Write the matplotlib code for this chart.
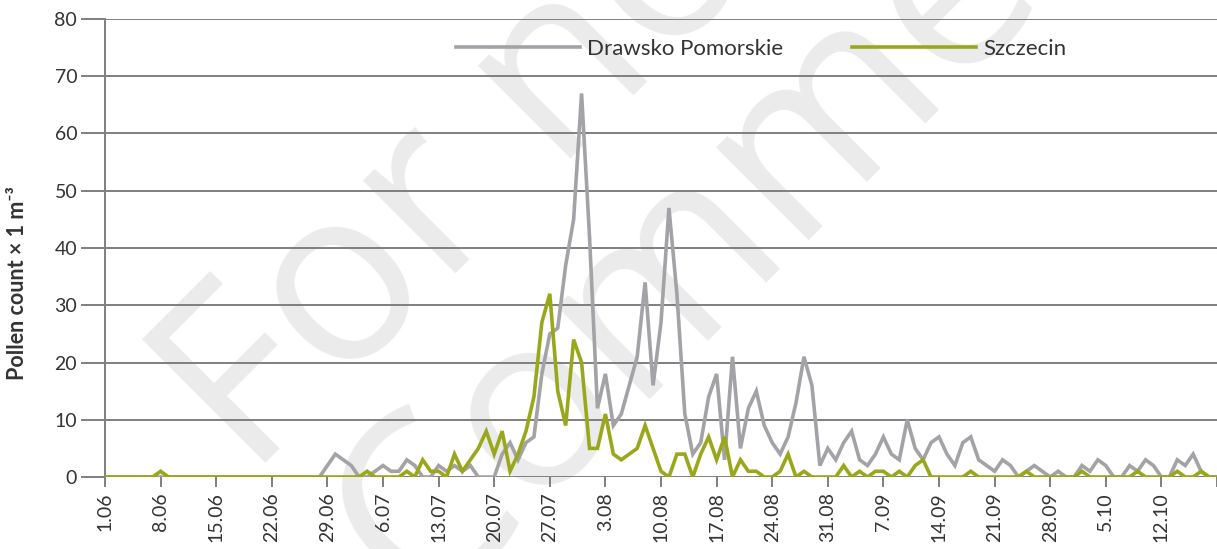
import matplotlib.pyplot as plt
import numpy as np

# Data: daily pollen counts, 1.06 - 19.10
drawsko = ([0] * 27 +
           [0, 2, 4, 3, 2, 0, 0, 1, 2, 1, 1, 3, 2, 0, 0, 2, 1, 2, 1, 2, 0, 0, 0,
            4, 6, 3, 6, 7, 18, 25, 26, 37, 45, 67, 42, 12, 18, 9, 11, 16, 21, 34,
            16, 27, 47, 32, 11, 4, 6, 14, 18, 3, 21, 5, 12, 15, 9, 6, 4, 7, 13,
            21, 16, 2, 5, 3, 6, 8, 3, 2, 4, 7, 4, 3, 10, 5, 3, 6, 7, 4, 2, 6, 7,
            3, 2, 1, 3, 2, 0, 1, 2, 1, 0, 1, 0, 0, 2, 1, 3, 2, 0, 0, 2, 1, 3, 2,
            0, 0, 3, 2, 4, 1, 0, 0])
szczecin = ([0] * 7 + [1] + [0] * 25 +
            [1, 0, 0, 0, 0, 1, 0, 3, 1, 1, 0, 4, 1, 3, 5, 8, 4, 8, 1, 4, 8, 14,
             27, 32, 15, 9, 24, 20, 5, 5, 11, 4, 3, 4, 5, 9, 5, 1, 0, 4, 4, 0, 4,
             7, 3, 7, 0, 3, 1, 1, 0, 0, 1, 4, 0, 1, 0, 0, 0, 0, 2, 0, 1, 0, 1, 1,
             0, 1, 0, 2, 3] +
            [0] * 5 + [1] + [0] * 6 + [1] + [0] * 6 + [1] + [0] * 6 + [1] +
            [0] * 4 + [1] + [0] * 2 + [1, 0, 0])
tick_labels = ['1.06', '8.06', '15.06', '22.06', '29.06', '6.07', '13.07',
               '20.07', '27.07', '3.08', '10.08', '17.08', '24.08', '31.08',
               '7.09', '14.09', '21.09', '28.09', '5.10', '12.10', '']

plt.rcParams['font.family'] = ['Lato', 'DejaVu Sans']
grid_col = '#7f7f7f'
text_col = '#333333'

fig = plt.figure(figsize=(12.17, 5.49), dpi=100)
ax = fig.add_axes([105 / 1217, 1 - 477 / 549, 1112 / 1217, 458 / 549])
ax.patch.set_visible(False)

# watermark
wm = dict(color='#ebebeb', fontsize=175, rotation=45, rotation_mode='anchor',
          ha='left', va='baseline', zorder=-5, family=['Open Sans', 'Lato'])
fig.text(250 / 1217, 1 - 480 / 549, 'For non-', **wm)
fig.text(420 / 1217, 1 - 615 / 549, 'Commercial', **wm)

days = np.arange(len(drawsko))
ax.plot(days, drawsko, color='#a3a3a7', lw=2.6, label='Drawsko Pomorskie',
        solid_joinstyle='miter', zorder=3)
ax.plot(days[:len(szczecin)], szczecin, color='#9ba71a', lw=2.6,
        label='Szczecin', solid_joinstyle='miter', zorder=4)

ax.set_xlim(0, 140)
ax.set_ylim(0, 80)
ax.set_yticks(range(0, 81, 10))
ax.set_xticks(range(0, 141, 7))
ax.set_xticklabels(tick_labels, rotation=90)
ax.grid(axis='y', color=grid_col, lw=1.4, zorder=1)
for s in ['top', 'right', 'bottom']:
    ax.spines[s].set_visible(False)
ax.spines['left'].set_color(grid_col)
ax.spines['left'].set_linewidth(1.4)
ax.tick_params(axis='y', length=17, width=1.4, color=grid_col,
               labelsize=14, labelcolor=text_col, pad=3)
ax.tick_params(axis='x', length=7, width=1.4, color=grid_col,
               labelsize=14, labelcolor=text_col, pad=4)
ax.set_ylabel('Pollen count × 1 m⁻³', fontsize=15.5, fontweight='bold',
              color=text_col)
ax.yaxis.set_label_coords(-0.069, 0.424)

ax.legend(loc='center', bbox_to_anchor=(0.59, 0.934), ncol=2, frameon=False,
          handlelength=5.6, handletextpad=0.3, columnspacing=3.1,
          fontsize=16, labelcolor=text_col)

fig.savefig('out.png', dpi=100)
